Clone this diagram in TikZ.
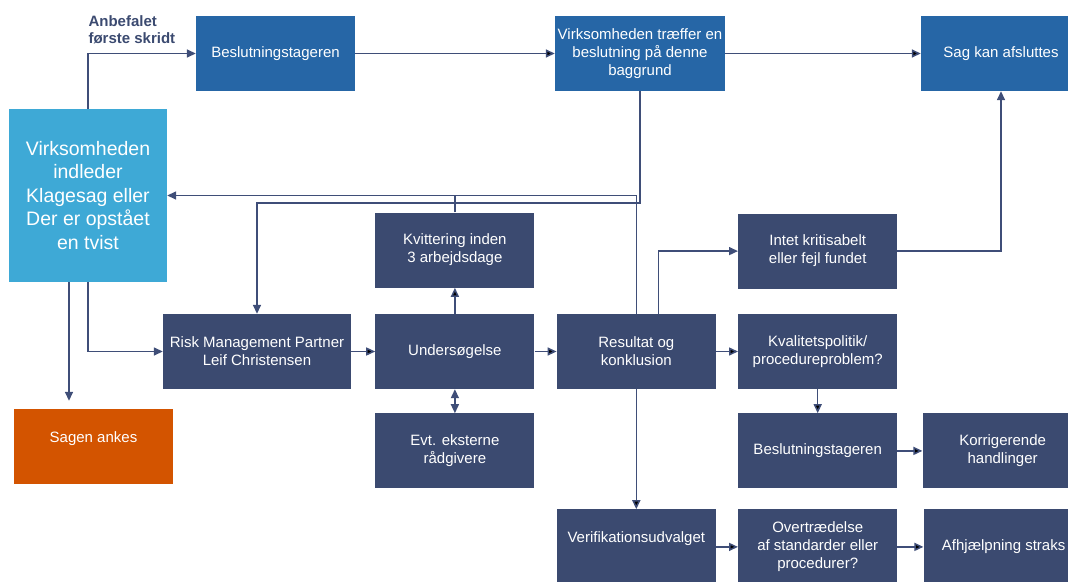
\documentclass[tikz,border=0pt]{standalone}
\usepackage{fontspec}
\setmainfont{Liberation Sans}
\usepackage{tikz}
\usetikzlibrary{positioning, arrows.meta}
\definecolor{boxnavy}{HTML}{3B4A70}
\definecolor{boxblue}{HTML}{2666A6}
\definecolor{startblue}{HTML}{3EA9D6}
\definecolor{ankesorange}{HTML}{D35400}
\definecolor{linenavy}{HTML}{3F4E78}

\begin{document}
\begin{tikzpicture}[x=1pt, y=1pt, node distance=22pt,
  box node/.style={rectangle, inner sep=2pt, minimum width=159pt, minimum height=75pt,
    align=center, text=white, font=\fontsize{15}{18}\selectfont},
  dark node/.style={box node, fill=boxnavy},
  blue node/.style={box node, fill=boxblue},
  start node/.style={box node, fill=startblue, minimum width=158pt, minimum height=173pt,
    font=\fontsize{19.5}{23.5}\selectfont},
  ankes node/.style={box node, fill=ankesorange},
  arrow line/.style={draw=linenavy, line width=1.5pt, -{Triangle[length=9pt,width=8pt]}},
  plain line/.style={draw=linenavy, line width=1.5pt}]

\useasboundingbox (0,0) rectangle (1068,-581);

\node[start node] (start) at (88,-195.5) {Virksomheden\\indleder\\Klagesag eller\\Der er opstået\\en tvist};
\node[blue node] (beslut) at (275.5,-53.5) {Beslutningstageren};
\node[blue node, minimum width=170pt] (virk) at (640,-53.5) {Virksomheden træffer en\\beslutning på denne\\baggrund};
\node[blue node, minimum width=160pt] (sag) at (1001,-53.5) {Sag kan afsluttes};
\node[ankes node, text depth=18pt] (ankes) at (93.5,-446.5) {Sagen ankes};

\node[dark node, minimum width=188pt] (risk) at (257,-351.5) {Risk Management Partner\\Leif Christensen};
\node[dark node] (undersog) [right=24pt of risk] {Undersøgelse};
\node[dark node] (kvit) [above=26pt of undersog] {Kvittering inden\\3 arbejdsdage};
\node[dark node] (ekstern) [below=24pt of undersog] {Evt. eksterne\\rådgivere};
\node[dark node] (resultat) [right=of undersog] {Resultat og\\konklusion};
\node[dark node] (kvalitet) [right=of resultat] {Kvalitetspolitik/\\procedureproblem?};
\node[dark node] (intet) [above=25pt of kvalitet] {Intet kritisabelt\\eller fejl fundet};
\node[dark node] (beslut2) [below=24pt of kvalitet] {Beslutningstageren};
\node[dark node, minimum width=160pt] (korrig) [right=25pt of beslut2] {Korrigerende\\handlinger};
\node[dark node, text depth=20pt] (verif) [below=120pt of resultat] {Verifikationsudvalget};
\node[dark node] (overtr) [right=of verif] {Overtrædelse\\af standarder eller\\procedurer?};
\node[dark node, minimum width=160pt] (afhj) [right=26pt of overtr] {Afhjælpning straks};

\node[anchor=north west, align=left, text=boxnavy, font=\bfseries\fontsize{15}{17}\selectfont]
  (anbefalet) at (85,-12) {Anbefalet\\første skridt};

% top row
\draw[arrow line] (start.north) |- (beslut.west);
\path[arrow line] (beslut) edge (virk) (virk) edge (sag);

% feedback lines
\draw[arrow line] (virk.south) -- ++(0,-112) -| (risk.north);
\draw[arrow line] (resultat.north) |- (start.east);
\draw[plain line] (kvit.north) -- (kvit.north |- start.east);
\draw[arrow line] ([xshift=22pt]resultat.north) |- (intet.west);
\draw[arrow line] (intet.east) -| (sag.south);

% from the start box
\coordinate (appealtop) at ([xshift=-19pt]start.south);
\draw[arrow line, shorten >=8pt] (appealtop) -- (appealtop |- ankes.north);
\draw[arrow line] (start.south) |- (risk.west);

\path[arrow line]
(risk) edge (undersog)
(undersog) edge (kvit)
(undersog) edge (resultat)
(resultat) edge (kvalitet)
(kvalitet) edge (beslut2)
(beslut2) edge (korrig)
(resultat) edge (verif)
(verif) edge (overtr)
(overtr) edge (afhj);

\draw[plain line, {Triangle[length=9pt,width=8pt]}-{Triangle[length=9pt,width=8pt]}] (undersog) -- (ekstern);
\end{tikzpicture}
\end{document}
